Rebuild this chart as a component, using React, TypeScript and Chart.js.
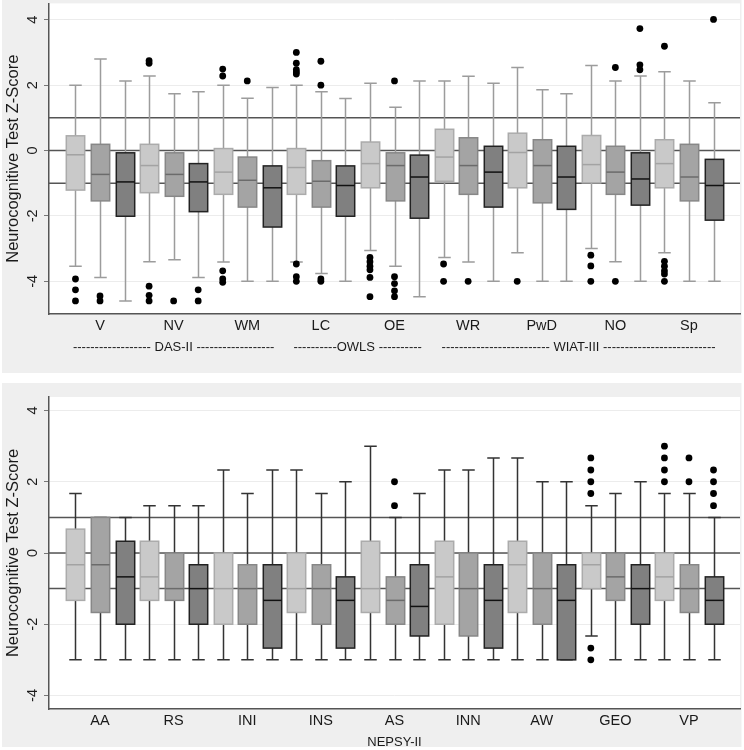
import React, { useEffect, useRef } from "react";
import { Chart, registerables } from "chart.js";

Chart.register(...registerables);

// ---------------- DATA ----------------
// box stats per category: [lower whisker, Q1, median, Q3, upper whisker]
const topCategories = ["V", "NV", "WM", "LC", "OE", "WR", "PwD", "NO", "Sp"];
const topLight = [
  [-3.54, -1.21, -0.13, 0.45, 2.0],
  [-3.4, -1.29, -0.46, 0.19, 2.28],
  [-3.41, -1.34, -0.66, 0.06, 2.0],
  [-3.41, -1.34, -0.52, 0.06, 2.0],
  [-3.06, -1.14, -0.4, 0.26, 2.06],
  [-3.27, -0.94, -0.2, 0.65, 2.13],
  [-3.13, -1.14, -0.06, 0.53, 2.54],
  [-3.0, -0.99, -0.43, 0.46, 2.6],
  [-3.13, -1.14, -0.4, 0.33, 2.41],
];
const topMid = [
  [-3.88, -1.54, -0.73, 0.19, 2.8],
  [-3.34, -1.4, -0.73, -0.07, 1.74],
  [-4.0, -1.73, -0.91, -0.2, 1.6],
  [-3.76, -1.73, -0.94, -0.31, 1.8],
  [-3.54, -1.54, -0.46, -0.07, 1.32],
  [-3.41, -1.34, -0.46, 0.39, 2.27],
  [-4.0, -1.6, -0.46, 0.33, 1.86],
  [-3.4, -1.34, -0.66, 0.13, 2.13],
  [-4.0, -1.54, -0.81, 0.19, 2.13],
];
const topDark = [
  [-4.6, -2.01, -0.96, -0.07, 2.13],
  [-3.88, -1.87, -0.96, -0.4, 1.8],
  [-4.0, -2.34, -1.14, -0.47, 1.93],
  [-4.0, -2.01, -1.07, -0.47, 1.59],
  [-4.47, -2.07, -0.81, -0.14, 2.13],
  [-4.0, -1.73, -0.66, 0.13, 2.06],
  [-4.0, -1.8, -0.81, 0.13, 1.74],
  [-4.0, -1.67, -0.87, -0.07, 2.28],
  [-4.0, -2.13, -1.07, -0.27, 1.46],
];
const topLightOutliers = [
  [-3.93, -4.26, -4.6],
  [2.75, 2.67, -4.15, -4.43, -4.6],
  [2.49, 2.28, -3.68, -3.93, -4.03],
  [3.0, 2.67, 2.47, 2.4, 2.34, -3.47, -3.86, -4.0],
  [-3.27, -3.4, -3.54, -3.65, -3.88, -4.47],
  [-3.47, -4.0],
  [-4.0],
  [-3.2, -3.53, -4.0],
  [3.19, -3.39, -3.54, -3.68, -3.78, -4.0],
];
const topMidOutliers = [
  [-4.45, -4.6],
  [-4.6],
  [2.13],
  [2.73, 2.0, -3.93, -4.0],
  [2.13, -3.86, -4.07, -4.29, -4.47],
  [-4.0],
  [],
  [2.54, -4.0],
  [],
];
const topDarkOutliers = [[], [-4.26, -4.6], [], [], [], [], [], [3.73, 2.62, 2.47], [4.01]];
const topGroups = [
  { text: "------------------ DAS-II ------------------", first: 1, last: 3 },
  { text: "----------OWLS ----------", first: 4, last: 5 },
  { text: "------------------------- WIAT-III --------------------------", first: 6, last: 9 },
];

const bottomCategories = ["AA", "RS", "INI", "INS", "AS", "INN", "AW", "GEO", "VP"];
const bottomLight = [
  [-3, -1.33, -0.33, 0.67, 1.67],
  [-3, -1.33, -0.67, 0.33, 1.33],
  [-3, -2, -1, 0, 2.33],
  [-3, -1.67, -1, 0, 2.33],
  [-3, -1.67, -1, 0.33, 3.0],
  [-3, -2, -0.67, 0.33, 2.33],
  [-3, -1.67, -0.33, 0.33, 2.67],
  [-2.33, -1, -0.33, 0, 1.33],
  [-3, -1.33, -0.67, 0, 1.67],
];
const bottomMid = [
  [-3, -1.67, -0.33, 1.0, 1.0],
  [-3, -1.33, -1, 0, 1.33],
  [-3, -2, -1, -0.33, 1.67],
  [-3, -2, -1, -0.33, 1.67],
  [-3, -2, -1.33, -0.67, 1.0],
  [-3, -2.33, -1, 0, 2.33],
  [-3, -2, -1, 0, 2.0],
  [-3, -1.33, -0.67, 0, 1.67],
  [-3, -1.67, -1, -0.33, 1.67],
];
const bottomDark = [
  [-3, -2, -0.67, 0.33, 1.0],
  [-3, -2, -1, -0.33, 1.33],
  [-3, -2.67, -1.33, -0.33, 2.33],
  [-3, -2.67, -1.33, -0.67, 2.0],
  [-3, -2.33, -1.5, -0.33, 1.67],
  [-3, -2.67, -1.33, -0.33, 2.67],
  [-3, -3, -1.33, -0.33, 2.0],
  [-3, -2, -1, -0.33, 2.0],
  [-3, -2, -1.33, -0.67, 1.0],
];
const bottomLightOutliers = [[], [], [], [], [], [], [], [2.67, 2.33, 2.0, 1.67, -2.67, -3.0], [3.0, 2.67, 2.33, 2.0]];
const bottomMidOutliers = [[], [], [], [], [2.0, 1.33], [], [], [], [2.67, 2.0]];
const bottomDarkOutliers = [[], [], [], [], [], [], [], [], [2.33, 2.0, 1.67, 1.33]];
const bottomGroups = [{ text: "NEPSY-II", first: 1, last: 9 }];

const yTicks = [4, 2, 0, -2, -4];
const yTickLabels = ["4", "2", "0", "-2", "-4"];
const refLines = [1, 0, -1];
const yTitle = "Neurocognitive Test Z-Score";

// ---------------- STYLE ----------------
const FONT = "'Liberation Sans', Arial, sans-serif";
const BG = "#efefef";
const boxStyles = [
  { fill: "#c9c9c9", stroke: "#ababab", median: "#a3a3a3" },
  { fill: "#a4a4a4", stroke: "#878787", median: "#6b6b6b" },
  { fill: "#808080", stroke: "#222222", median: "#111111" },
];
const offsets = [-1 / 3, 0, 1 / 3];

type PanelCfg = {
  categories: string[];
  boxes: number[][][];
  outliers: number[][][];
  groups: { text: string; first: number; last: number }[];
  yMin: number;
  yMax: number;
  whiskerColor: string;
  padTop: number;
  xHeight: number;
};

function makePlugin(cfg: PanelCfg) {
  return {
    id: "boxplotPanel",
    beforeDraw(chart: any) {
      const { ctx, chartArea, width, height } = chart;
      ctx.save();
      ctx.fillStyle = BG;
      ctx.fillRect(2, 0, width - 4.5, height);
      ctx.fillStyle = "#ffffff";
      ctx.fillRect(chartArea.left, chartArea.top, chartArea.right - chartArea.left, chartArea.bottom - chartArea.top);
      ctx.restore();
    },
    beforeDatasetsDraw(chart: any) {
      const { ctx, chartArea } = chart;
      const xs = chart.scales.x;
      const ys = chart.scales.y;
      ctx.save();
      // reference lines
      ctx.strokeStyle = "#555555";
      ctx.lineWidth = 1.5;
      refLines.forEach((v) => {
        const y = ys.getPixelForValue(v);
        ctx.beginPath();
        ctx.moveTo(chartArea.left, y);
        ctx.lineTo(chartArea.right, y);
        ctx.stroke();
      });
      const halfW = xs.getPixelForValue(0.125) - xs.getPixelForValue(0);
      const capW = xs.getPixelForValue(0.085) - xs.getPixelForValue(0);
      cfg.boxes.forEach((group, g) => {
        const st = boxStyles[g];
        group.forEach((s, i) => {
          const [lo, q1, med, q3, hi] = s;
          const cx = Math.round(xs.getPixelForValue(i + 1 + offsets[g])) + 0.5;
          const pLo = ys.getPixelForValue(lo);
          const pQ1 = ys.getPixelForValue(q1);
          const pMed = ys.getPixelForValue(med);
          const pQ3 = ys.getPixelForValue(q3);
          const pHi = ys.getPixelForValue(hi);
          // whiskers
          ctx.strokeStyle = cfg.whiskerColor;
          ctx.lineWidth = 1.5;
          ctx.beginPath();
          ctx.moveTo(cx, pLo);
          ctx.lineTo(cx, pHi);
          ctx.moveTo(cx - capW, pLo);
          ctx.lineTo(cx + capW, pLo);
          ctx.moveTo(cx - capW, pHi);
          ctx.lineTo(cx + capW, pHi);
          ctx.stroke();
          // box
          ctx.fillStyle = st.fill;
          ctx.fillRect(cx - halfW, pQ3, halfW * 2, pQ1 - pQ3);
          ctx.strokeStyle = st.stroke;
          ctx.lineWidth = 1.5;
          ctx.strokeRect(cx - halfW, pQ3, halfW * 2, pQ1 - pQ3);
          // median
          ctx.strokeStyle = st.median;
          ctx.lineWidth = 1.5;
          ctx.beginPath();
          ctx.moveTo(cx - halfW, pMed);
          ctx.lineTo(cx + halfW, pMed);
          ctx.stroke();
        });
      });
      ctx.restore();
    },
    afterDraw(chart: any) {
      const { ctx, chartArea } = chart;
      const xs = chart.scales.x;
      const ys = chart.scales.y;
      ctx.save();
      ctx.fillStyle = "#1a1a1a";
      // y tick labels (rotated)
      ctx.font = `14.5px ${FONT}`;
      ctx.textAlign = "center";
      ctx.textBaseline = "middle";
      yTicks.forEach((v, k) => {
        const y = ys.getPixelForValue(v);
        ctx.save();
        ctx.translate(33, y);
        ctx.rotate(-Math.PI / 2);
        ctx.fillText(yTickLabels[k], 0, 0);
        ctx.restore();
      });
      // y title
      ctx.font = `16.5px ${FONT}`;
      ctx.save();
      ctx.translate(13, (chartArea.top + chartArea.bottom) / 2);
      ctx.rotate(-Math.PI / 2);
      ctx.fillText(yTitle, 0, 0);
      ctx.restore();
      // category labels
      ctx.font = `14.5px ${FONT}`;
      cfg.categories.forEach((c, i) => {
        ctx.fillText(c, xs.getPixelForValue(i + 1), chartArea.bottom + 12);
      });
      // group labels
      ctx.font = `13px ${FONT}`;
      cfg.groups.forEach((gr) => {
        ctx.fillText(gr.text, xs.getPixelForValue((gr.first + gr.last) / 2), chartArea.bottom + 33);
      });
      ctx.restore();
    },
  };
}

function Panel({ cfg, top, height }: { cfg: PanelCfg; top: number; height: number }) {
  const ref = useRef<HTMLCanvasElement | null>(null);
  useEffect(() => {
    if (!ref.current) return;
    const datasets = cfg.outliers.map((group, g) => ({
      type: "scatter" as const,
      data: group.flatMap((vals, i) => vals.map((v) => ({ x: i + 1 + offsets[g], y: v }))),
      pointRadius: 3.4,
      pointBackgroundColor: "#000000",
      pointBorderWidth: 0,
      pointHoverRadius: 3.4,
    }));
    const margin = 0.693;
    const chart = new Chart(ref.current, {
      type: "scatter",
      data: { datasets },
      options: {
        animation: false,
        responsive: false,
        maintainAspectRatio: false,
        events: [],
        layout: { padding: { left: 0, right: 4, top: cfg.padTop, bottom: 0 } },
        plugins: { legend: { display: false }, tooltip: { enabled: false } },
        scales: {
          x: {
            type: "linear",
            min: 1 - margin,
            max: cfg.categories.length + margin,
            ticks: { display: false },
            grid: { display: false },
            border: { display: true, color: "#555555", width: 1.5 },
            afterFit: (s: any) => {
              s.height = cfg.xHeight;
            },
          },
          y: {
            type: "linear",
            min: cfg.yMin,
            max: cfg.yMax,
            ticks: { display: false },
            afterBuildTicks: (s: any) => {
              s.ticks = yTicks.map((v) => ({ value: v }));
            },
            afterFit: (s: any) => {
              s.width = 49;
            },
            grid: { color: "#ececec", lineWidth: 1, drawTicks: true, tickLength: 5, tickColor: "#777777" },
            border: { display: true, color: "#555555", width: 1.5 },
          },
        },
      },
      plugins: [makePlugin(cfg)],
    } as any);
    return () => chart.destroy();
  }, []);
  return (
    <canvas
      ref={ref}
      width={744}
      height={height}
      style={{ position: "absolute", left: 0, top, width: 744, height }}
    />
  );
}

const topCfg: PanelCfg = {
  categories: topCategories,
  boxes: [topLight, topMid, topDark],
  outliers: [topLightOutliers, topMidOutliers, topDarkOutliers],
  groups: topGroups,
  yMin: -5,
  yMax: 4.5,
  whiskerColor: "#9c9c9c",
  padTop: 0,
  xHeight: 59,
};

const bottomCfg: PanelCfg = {
  categories: bottomCategories,
  boxes: [bottomLight, bottomMid, bottomDark],
  outliers: [bottomLightOutliers, bottomMidOutliers, bottomDarkOutliers],
  groups: bottomGroups,
  yMin: -4.38,
  yMax: 4.38,
  whiskerColor: "#333333",
  padTop: 14,
  xHeight: 38,
};

export default function App() {
  useEffect(() => {
    document.body.style.margin = "0";
    document.body.style.background = "#ffffff";
  }, []);
  return (
    <div style={{ position: "relative", width: 744, height: 750, overflow: "hidden" }}>
      <Panel cfg={topCfg} top={0} height={373} />
      <Panel cfg={bottomCfg} top={383} height={364} />
    </div>
  );
}
